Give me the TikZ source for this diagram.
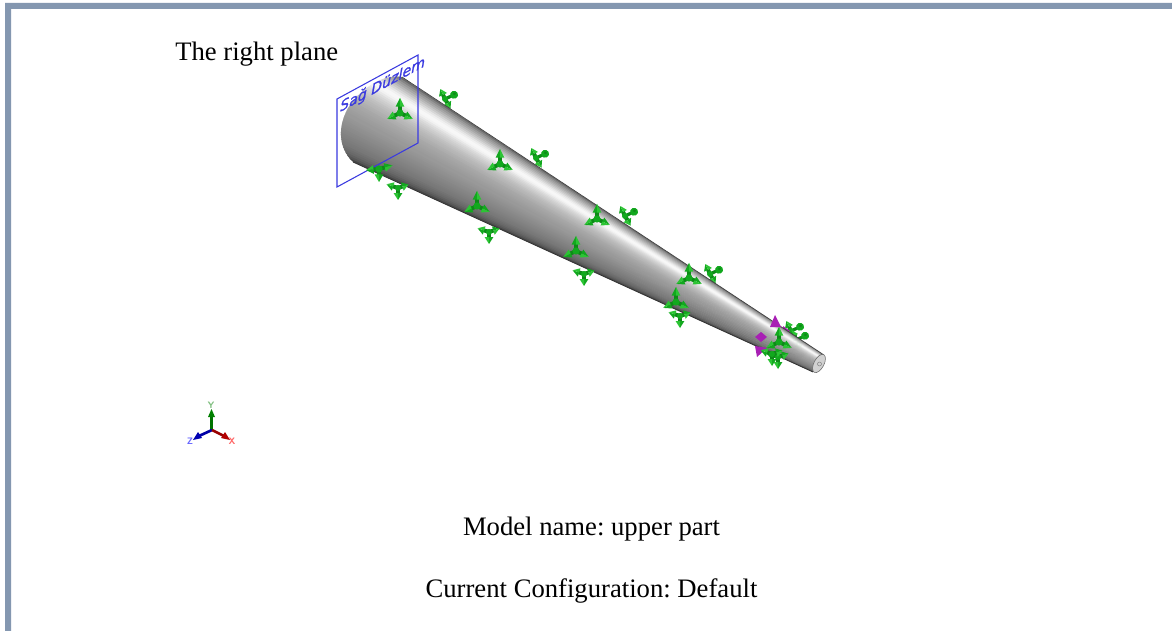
\documentclass[tikz,border=0pt]{standalone}
\usepackage{fontspec}
\setmainfont{Liberation Serif}
\newfontfamily\planefont[FakeBold=1.2]{DejaVu Sans}
\definecolor{frameblue}{HTML}{8497B0}
\definecolor{gmain}{HTML}{12A81E}
\definecolor{gdark}{HTML}{0E8A18}
\definecolor{glight}{HTML}{2CC434}
\definecolor{mag}{HTML}{A81FB4}
\definecolor{planeblue}{HTML}{3A3AE0}
\newcommand\gcone[4][11]{%
 \begin{scope}[shift={(#2,#3)},rotate=#4]
  \fill[gdark] (0,-2)--(#1*.6,-2)--(#1*.6,2)--(0,2)--cycle;
  \fill[gmain] (#1*.45+1,-4.4) -- (#1+3,0) -- (#1*.45+1,0) -- cycle;
  \fill[glight] (#1*.45+1,4.4) -- (#1+3,0) -- (#1*.45+1,0) -- cycle;
 \end{scope}}
\newcommand\gball[3]{%
 \begin{scope}[shift={(#1,#2)},rotate=#3]
  \fill[gdark] (1,-1.6)--(9,-1.6)--(9,1.6)--(1,1.6)--cycle;
  \fill[gmain] (10,0) circle (4);
  \fill[gdark] (10.8,-.8) circle (1.6);
 \end{scope}}
\newcommand\triadA[2]{\gcone[12]{#1}{#2}{90}\gcone[11]{#1}{#2}{205}\gcone[11]{#1}{#2}{-25}\fill[gmain] (#1,#2) circle (3.6);}
\newcommand\triadB[2]{\gcone[8]{#1}{#2}{115}\gcone[8]{#1}{#2}{-60}\gball{#1}{#2}{25}\fill[gmain] (#1,#2) circle (3);}
\newcommand\triadC[2]{\gcone[9]{#1}{#2}{-90}\gcone[9]{#1}{#2}{162}\gcone[8]{#1}{#2}{18}\fill[gmain] (#1,#2) circle (3);}
\begin{document}
\begin{tikzpicture}[x=0.75pt,y=-0.75pt,
 txt/.style={font=\fontsize{20}{24}\selectfont\frenchspacing,inner sep=0pt,anchor=base},
 axlab/.style={font=\fontsize{7}{8}\selectfont\sffamily\bfseries,inner sep=0pt}]
\useasboundingbox (0,0) rectangle (1172,631);
\fill[white] (0,0) rectangle (1172,631);
\fill[frameblue] (5,631) -- (5,3) -- (1172,3) -- (1172,9) -- (11,9) -- (11,631) -- cycle;
% hidden triads behind the cone
\triadB{445}{99}\triadB{536}{158}\triadB{625}{216}\triadB{710}{274}
\triadB{791}{331}\triadB{796}{340}
\fill[mag] (783,326) -- (790,331) -- (784,336) -- cycle;
% cone
\begin{scope}
 \clip (402,77) -- (824,355) -- (813,372) -- (353,162)
   .. controls (338,148) and (337,125) .. (350,105)
   .. controls (362,88) and (383,74) .. (402,77) -- cycle;
 \foreach \t/\g in {0/42,2/52,4/60,6/66,8/72,10/78,12/84,14/90,16/94,18/97,20/97,22/95,24/91,26/87,28/84,30/81,32/79,34/76,36/74,38/72,40/71,42/69,44/68,46/66,48/65,50/64,52/63,54/62,56/61,58/60,60/60,62/59,64/58,66/57,68/56,70/55,72/54,74/53,76/52,78/51,80/50,82/49,84/48,86/47,88/45,90/43,92/41,94/38,96/34,98/28}{
  \pgfmathsetmacro\ta{\t/100}
  \pgfmathsetmacro\tb{(\t+3)/100}
  \definecolor{stripc}{gray}{0.\g}
  \fill[stripc] ({318-57*\ta},{22+98*\ta}) -- ({824-11*\ta},{355+17*\ta})
     -- ({824-11*\tb},{355+17*\tb}) -- ({318-57*\tb},{22+98*\tb}) -- cycle;
 }
\end{scope}
\draw[black!75,line width=.5pt] (402,77) -- (824,355);
\draw[black!80,line width=.6pt] (353,162) -- (813,372);
% small end
\fill[black!18,draw=black!60,line width=.4pt,rotate around={-28:(819,363.5)}] (819,363.5) ellipse (5 and 10);
\draw[black!55,line width=.3pt] (819.5,364) circle (2);
% plane
\draw[planeblue,line width=.8pt] (337,99) -- (418,55) -- (418,143) -- (337,187) -- cycle;
\node[anchor=base west,inner sep=0pt,text=planeblue,font=\fontsize{10.6}{12}\selectfont\planefont\itshape,cm={1,0.54,0,1,(0,0)}] (planetext) at (340,112) {Sağ Düzlem};
% magenta handles
\fill[mag] (775,315) -- (781,327) -- (770,327) -- cycle;
\fill[mag] (761,332) -- (767,337) -- (761,342) -- (755,337) -- cycle;
\fill[mag] (767,348) -- (757,357) -- (755,346) -- cycle;
% front triads
\triadC{680}{316}
\triadC{778}{357}\triadC{772}{354}
\triadA{400}{113}\triadA{500}{164}\triadA{477}{206}\triadA{597}{219}\triadA{576}{251}
\triadA{689}{278}\triadA{676}{302}\triadA{779}{342}
\gcone[10]{379}{169}{-90}\gcone[10]{379}{169}{185}\gcone[11]{379}{169}{15}\fill[gmain] (379,169) circle (3.6);
\triadC{398}{188}\triadC{489}{232}\triadC{584}{274}
% axes
\fill[green!45!black] (210,416) rectangle (213,430);
\fill[green!50!black] (211.5,409) -- (215,417) -- (208,417) -- cycle;
\draw[blue!65!black,line width=2pt] (212,430) -- (199,436);
\fill[blue!70!black] (193,440) -- (198,432) -- (202,438) -- cycle;
\draw[red!60!black,line width=2pt] (212,430) -- (224,436);
\fill[red!70!black] (230,440) -- (225,432) -- (221,438) -- cycle;
\node[axlab,text=green!50!black!50] (ylab) at (211,405) {Y};
\node[axlab,text=blue!60] (zlab) at (190,441) {Z};
\node[axlab,text=red!60] (xlab) at (232,441) {X};
% text
\node[txt,anchor=base west] (plane) at (175,61) {The right plane};
\node[txt] (model) at (591.5,535) {Model name: upper part};
\node[txt] (config) at (591.5,597) {Current Configuration: Default};
\end{tikzpicture}
\end{document}
